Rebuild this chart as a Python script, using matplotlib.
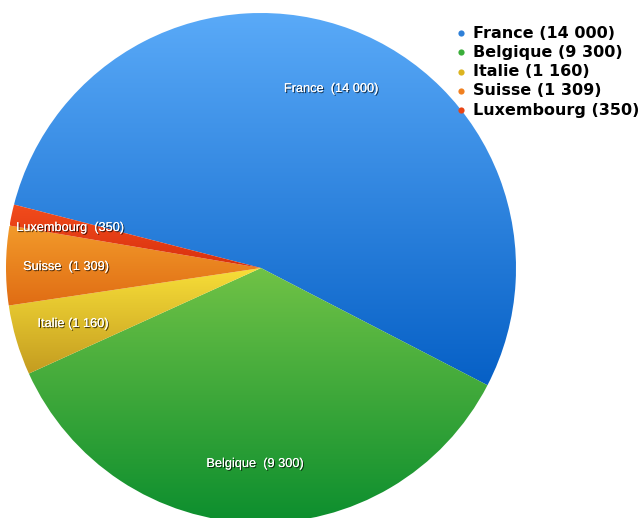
import numpy as np
import matplotlib
matplotlib.use("Agg")
import matplotlib.pyplot as plt
import matplotlib.patheffects as pe
from matplotlib.colors import LinearSegmentedColormap

categories = ["France", "Belgique", "Italie", "Suisse", "Luxembourg"]
values = [14000, 9300, 1160, 1309, 350]
value_labels = ["14 000", "9 300", "1 160", "1 309", "350"]
slice_labels = ["France  (14 000)", "Belgique  (9 300)", "Italie (1 160)",
                "Suisse  (1 309)", "Luxembourg  (350)"]
legend_labels = ["France (14 000)", "Belgique (9 300)", "Italie (1 160)",
                 "Suisse (1 309)", "Luxembourg (350)"]
grad_top = ["#5aaaf8", "#70c246", "#f7de38", "#f29a2a", "#f24c1c"]
grad_bot = ["#0660c6", "#0c8e2e", "#c49c20", "#e06c14", "#d8300e"]
dot_colors = ["#2f80d8", "#3aae3a", "#dcb420", "#f08020", "#e84414"]

W, H = 642, 518
fig = plt.figure(figsize=(W / 100, H / 100), dpi=100)
ax = fig.add_axes([0, 0, 1, 1])

cx, cy, R = 261, 268, 255
wedges, _ = ax.pie(values, center=(cx, cy), radius=R, startangle=194.4,
                   counterclock=True, frame=True,
                   wedgeprops=dict(linewidth=0))
ax.set_xlim(0, W)
ax.set_ylim(H, 0)
ax.set_aspect("equal")
ax.axis("off")

for w, ct, cb in zip(wedges, grad_top, grad_bot):
    w.set_facecolor("none")
    ext = w.get_path().get_extents(w.get_patch_transform())
    cmap = LinearSegmentedColormap.from_list("g", [ct, cb])
    grad = np.linspace(0, 1, 256).reshape(-1, 1)
    im = ax.imshow(grad, cmap=cmap, extent=(ext.x0, ext.x1, ext.y1, ext.y0),
                   aspect="auto", zorder=1, interpolation="bilinear")
    im.set_clip_path(w)
ax.set_xlim(0, W)
ax.set_ylim(H, 0)

label_pos = [(331, 89), (255, 464), (73, 324), (66, 267), (70, 228)]
for (x, y), t in zip(label_pos, slice_labels):
    ax.text(x, y, t, color="white", fontsize=9.2, ha="center", va="center",
            family="Liberation Sans", zorder=5,
            path_effects=[pe.withSimplePatchShadow(offset=(0.8, -0.8),
                                                   shadow_rgbFace="black",
                                                   alpha=0.7),
                          pe.Normal()])

for i, (t, c) in enumerate(zip(legend_labels, dot_colors)):
    y = 33 + i * 19.3
    ax.scatter([461], [y], s=20, color=c, zorder=6, linewidths=0)
    ax.text(473, y, t, fontsize=11.5, fontweight="bold", family="DejaVu Sans",
            ha="left", va="center", color="black", zorder=6)

fig.savefig("out.png", dpi=100)
